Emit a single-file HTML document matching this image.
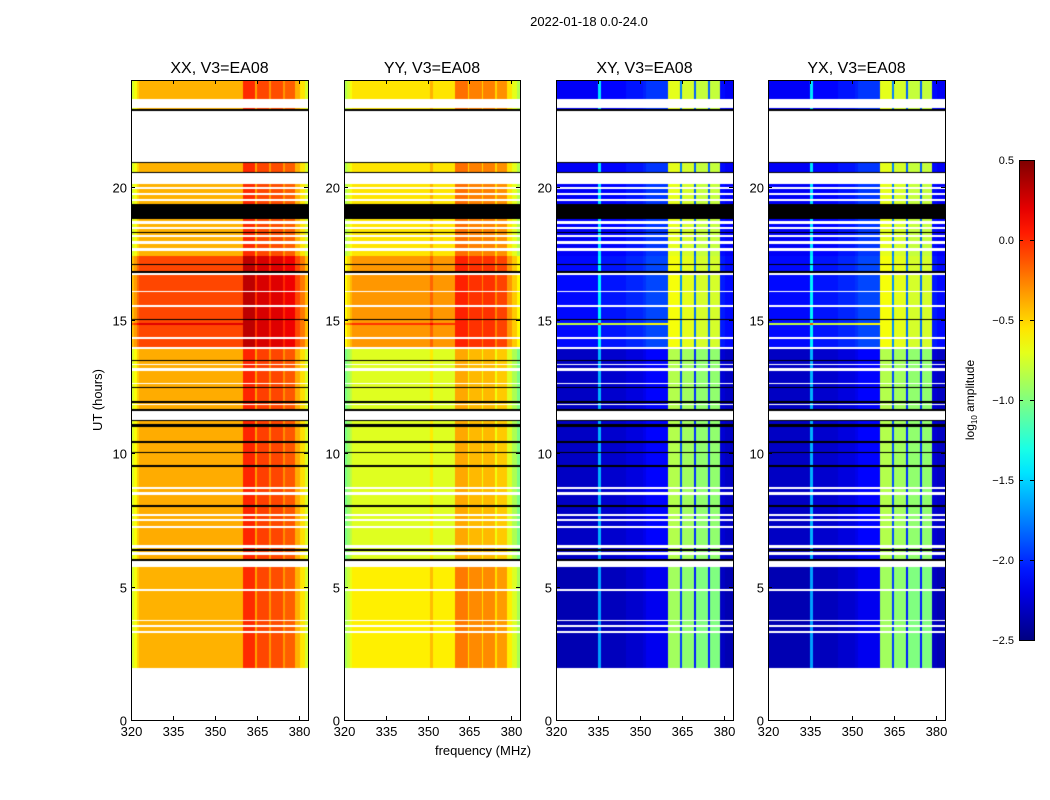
<!DOCTYPE html>
<html><head><meta charset="utf-8">
<style>
body{margin:0;background:#fff;font-family:"Liberation Sans",sans-serif;}
#root{position:relative;width:1050px;height:800px;overflow:hidden;background:#fff;}
canvas{position:absolute;}
svg{position:absolute;left:0;top:0;}
</style></head>
<body>
<div id="root">
<canvas id="c0" width="177" height="640" style="left:131px;top:80px"></canvas>
<canvas id="c1" width="176" height="640" style="left:344px;top:80px"></canvas>
<canvas id="c2" width="177" height="640" style="left:556px;top:80px"></canvas>
<canvas id="c3" width="177" height="640" style="left:768px;top:80px"></canvas>
<svg id="ov" width="1050" height="800"></svg>
</div>
<script>
// ---- data ----
const panelTitles = ["XX, V3=EA08","YY, V3=EA08","XY, V3=EA08","YX, V3=EA08"];
const xTicks = [320,335,350,365,380];
const yTicks = [0,5,10,15,20];
const cbTicks = [0.5,0.0,-0.5,-1.0,-1.5,-2.0,-2.5];
const blockStart = [1.95,5.95,14.0,17.4];
const blockEnd   = [5.95,14.0,17.4,24.0];
const xxLevel = [-0.4,-0.38,-0.08,-0.4];
const yyLevel = [-0.58,-0.72,-0.32,-0.55];
const xyLevel = [-2.35,-2.3,-2.1,-2.15];
const yxLevel = [-2.35,-2.3,-2.1,-2.15];
const freqStart = [320,321,322,323,335,336,345,351,352,360,364.4,365,369.4,370,374.4,375,378.4,380.5,382];
const freqEnd   = [321,322,323,335,336,345,351,352,360,364.4,365,369.4,370,374.4,375,378.4,380.5,382,384];
const xxOffset  = [-0.35,-0.25,-0.1,0,0,0,0,0,0,0.4,0.05,0.32,0.08,0.3,0.08,0.25,0,-0.15,-0.35];
const yyOffset  = [-0.3,-0.2,-0.1,0,0,0,0,0.15,0,0.35,0.05,0.3,0.05,0.3,0.05,0.25,0,-0.15,-0.3];
const xyOffset  = [0,0,0,0,0.7,0.03,0.08,0.12,0.18,1.45,0.4,1.4,0.3,1.35,0.3,1.35,0.05,0,0];
const flagStart = [0,3.28,3.5,3.7,4.84,5.72,6.2,6.45,7.2,7.45,7.65,8.45,8.65,11.25,11.8,12.6,13.1,13.3,13.9,14.3,15.5,16.05,16.7,17.6,17.85,18.1,18.4,18.6,19.45,19.7,19.9,20.1,20.9,22.95];
const flagEnd   = [1.95,3.34,3.55,3.76,4.9,5.95,6.3,6.55,7.28,7.52,7.72,8.55,8.72,11.6,11.86,12.65,13.2,13.35,14.0,14.35,15.55,16.1,16.8,17.7,17.95,18.2,18.5,18.7,19.55,19.75,20.0,20.5,22.85,23.3];
const blackStart = [5.97,6.35,7.98,9.5,10.0,10.4,11.0,11.2,11.6,11.9,12.45,13.45,15.0,16.78,17.05,18.25,18.8,22.85,20.5,20.88];
const blackEnd   = [6.03,6.4,8.05,9.56,10.05,10.45,11.1,11.25,11.65,11.95,12.5,13.5,15.05,16.83,17.1,18.3,19.35,22.9,20.55,20.92];
const rfiStart = [14.82,5.92];
const rfiEnd   = [14.9,5.97];
const rfiBoost = [0.3,0.5];
const rfiCrossBoost = [1.3,1.8];

// ---- scales ----
const F0=320, F1=383.2, H0=0, H1=24;
function jet(v){
  const r=Math.min(Math.max(Math.min(4*v-1.5,-4*v+4.5),0),1);
  const g=Math.min(Math.max(Math.min(4*v-0.5,-4*v+3.5),0),1);
  const b=Math.min(Math.max(Math.min(4*v+0.5,-4*v+2.5),0),1);
  return [Math.round(r*255),Math.round(g*255),Math.round(b*255)];
}
function norm(a){return (a+2.5)/3;}
const levels=[xxLevel,yyLevel,xyLevel,yxLevel];
const offs=[xxOffset,yyOffset,xyOffset,xyOffset];
function inAny(h,s,e){for(let i=0;i<s.length;i++) if(h>=s[i]&&h<e[i]) return i; return -1;}
for(let p=0;p<4;p++){
  const cv=document.getElementById('c'+p), ctx=cv.getContext('2d');
  const W=cv.width,Hh=cv.height, img=ctx.createImageData(W,Hh);
  for(let y=0;y<Hh;y++){
    const h=H1-(y+0.5)/Hh*(H1-H0);
    const bk=inAny(h,blackStart,blackEnd), fl=inAny(h,flagStart,flagEnd), bl=inAny(h,blockStart,blockEnd);
    const rf=inAny(h,rfiStart,rfiEnd);
    for(let x=0;x<W;x++){
      const f=F0+(x+0.5)/W*(F1-F0); let c;
      if(bk>=0) c=[0,0,0];
      else if(fl>=0||bl<0) c=[255,255,255];
      else{
        const fi=inAny(f,freqStart,freqEnd);
        let a=levels[p][bl]+(fi>=0?offs[p][fi]:0);
        if(rf>=0&&f<360) a+= p<2?rfiBoost[rf]:rfiCrossBoost[rf];
        c=jet(Math.min(Math.max(norm(a),0),1));
      }
      const k=(y*W+x)*4; img.data[k]=c[0];img.data[k+1]=c[1];img.data[k+2]=c[2];img.data[k+3]=255;
    }
  }
  ctx.putImageData(img,0,0);
}
// ---- axes overlay ----
const NS="http://www.w3.org/2000/svg", ov=document.getElementById('ov');
function el(t,a,txt){const e=document.createElementNS(NS,t);for(const k in a)e.setAttribute(k,a[k]);if(txt!==undefined)e.textContent=txt;ov.appendChild(e);return e;}
const panelX=[131,344,556,768], panelW=[177,176,177,177], plotTop=80, plotBot=720;
let t=el('text',{x:589,y:26,'font-size':13,'text-anchor':'middle'},'2022-01-18 0.0-24.0');
 
for(let p=0;p<4;p++){
  const x0=panelX[p], w=panelW[p];
  const xs=f=>x0+(f-F0)/(F1-F0)*w, ys=h=>plotBot-(h-H0)/(H1-H0)*(plotBot-plotTop);
  const fr=el('rect',{x:x0+0.5,y:plotTop+0.5,width:w,height:plotBot-plotTop,fill:'none',stroke:'#000','stroke-width':1});
   
  const tt=el('text',{x:x0+w/2,y:73,'font-size':16,'text-anchor':'middle'},panelTitles[p]);
   
  xTicks.forEach(f=>{const X=Math.round(xs(f))+0.5;
    el('line',{x1:X,x2:X,y1:plotBot,y2:plotBot-4,stroke:'#000'});el('line',{x1:X,x2:X,y1:plotTop,y2:plotTop+4,stroke:'#000'});
    const l=el('text',{x:X,y:plotBot+16,'font-size':13,'text-anchor':'middle'},f);
     });
  yTicks.forEach(h=>{const Y=Math.round(ys(h))+0.5;
    el('line',{x1:x0,x2:x0+4,y1:Y,y2:Y,stroke:'#000'});el('line',{x1:x0+w,x2:x0+w-4,y1:Y,y2:Y,stroke:'#000'});
    const l=el('text',{x:x0-4,y:Y+5,'font-size':13,'text-anchor':'end'},h);
     });
}
t=el('text',{x:483,y:755,'font-size':13,'text-anchor':'middle'},'frequency (MHz)');
 
t=el('text',{x:0,y:0,'font-size':13,'text-anchor':'middle',transform:'translate(102,400) rotate(-90)'},'UT (hours)');
 
// colorbar
const defs=el('defs',{}); const lg=document.createElementNS(NS,'linearGradient');
lg.setAttribute('id','jg');lg.setAttribute('x1','0');lg.setAttribute('y1','1');lg.setAttribute('x2','0');lg.setAttribute('y2','0');
for(let i=0;i<=20;i++){const c=jet(i/20);const s=document.createElementNS(NS,'stop');s.setAttribute('offset',i/20);s.setAttribute('stop-color','rgb('+c.join(',')+')');lg.appendChild(s);}
defs.appendChild(lg);
const cbT=160, cbB=640, cbX=1019, cbW=15;
const cb=el('rect',{x:cbX+0.5,y:cbT+0.5,width:cbW,height:cbB-cbT,fill:'url(#jg)',stroke:'#000'});
 
cbTicks.forEach(v=>{const Y=cbB-(v+2.5)/3*(cbB-cbT);
  el('line',{x1:cbX+cbW-4,x2:cbX+cbW,y1:Y+0.5,y2:Y+0.5,stroke:'#000'});
  el('line',{x1:cbX,x2:cbX+4,y1:Y+0.5,y2:Y+0.5,stroke:'#000'});
  const l=el('text',{x:cbX-5,y:Y+4,'font-size':11,'text-anchor':'end'},v.toFixed(1).replace('-','\u2212'));
   });
t=el('text',{x:0,y:0,'font-size':12,'text-anchor':'middle',transform:'translate(974,400) rotate(-90)'});
t.innerHTML='log<tspan font-size="8" dy="3">10</tspan><tspan dy="-3"> amplitude</tspan>';
 
</script>
</body></html>
